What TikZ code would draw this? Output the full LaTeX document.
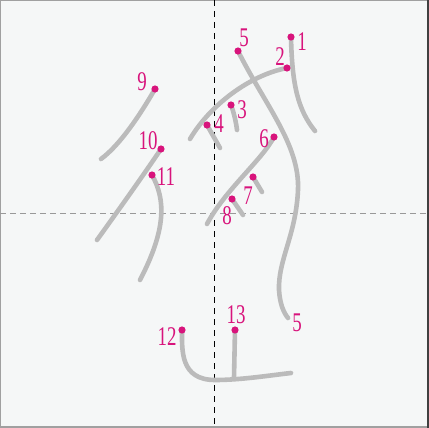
\documentclass[tikz,border=0pt]{standalone}
\usepackage{graphicx}
\usepackage{fontspec}
\setmainfont{Liberation Serif}
\definecolor{bgc}{HTML}{F5F7F7}
\definecolor{strokec}{HTML}{BBBBBB}
\definecolor{dotc}{HTML}{D8147C}
\definecolor{framec}{HTML}{A0A0A0}
\tikzset{
  kstroke/.style={draw=strokec, line width=4.6pt, line cap=round, line join=round},
  kdot/.style={fill=dotc},
  klabel/.style={text=dotc, inner sep=0pt, font=\fontsize{27}{27}\selectfont},
}
\newcommand{\nlab}[1]{\scalebox{0.7}[1]{#1}}
\begin{document}
\begin{tikzpicture}[x=1pt,y=-1pt]
\useasboundingbox (0,0) rectangle (429,428);
\fill[bgc] (0,0) rectangle (429,428);
% frame
\draw[framec, line width=1pt] (0,428) -- (0,0.5) -- (429,0.5);
\draw[framec, line width=2pt] (0,427) -- (429,427);
\draw[black!75, line width=2pt] (428,0) -- (428,428);
% guides
\draw[gray!80, line width=1pt, dash pattern=on 6pt off 4pt] (0,213) -- (429,213);
\draw[black, line width=0.9pt, dash pattern=on 6pt off 5pt] (214,0) -- (214,428);
% strokes
\draw[kstroke] (291,37) .. controls (292,85) and (298,110) .. (315,131);   % 1
\draw[kstroke] (287,68) .. controls (250,75) and (210,105) .. (190,139);   % 2
\draw[kstroke] (231,105) .. controls (234,113) and (236,122) .. (237,130); % 3
\draw[kstroke] (207,125) -- (220,148);                                     % 4
\draw[kstroke] (238,51) .. controls (265,105) and (300,145) .. (298,190)
   .. controls (296,235) and (278,260) .. (279,290)
   .. controls (280,305) and (284,313) .. (288,318);                       % 5
\draw[kstroke] (274,137) .. controls (262,160) and (225,190) .. (207,224); % 6
\draw[kstroke] (253,177) -- (262,192);                                     % 7
\draw[kstroke] (232,199) -- (243,215);                                     % 8
\draw[kstroke] (155,89) .. controls (140,115) and (120,145) .. (101,159);  % 9
\draw[kstroke] (161,149) .. controls (140,180) and (115,215) .. (97,240);  % 10
\draw[kstroke] (152,175) .. controls (166,200) and (166,230) .. (140,280); % 11
\draw[kstroke] (182,330) .. controls (182,350) and (180,380) .. (215,380)
   .. controls (240,380) and (265,376) .. (291,373);                       % 12
\draw[kstroke] (235,330) -- (234,378);                                     % 13
% start dots
\foreach \p/\n in {{(291,37)}/d1,{(287,68)}/d2,{(231,105)}/d3,{(207,125)}/d4,{(238,51)}/d5,{(274,137)}/d6,{(253,177)}/d7,{(232,199)}/d8,{(155,89)}/d9,{(161,149)}/d10,{(152,175)}/d11,{(182,330)}/d12,{(235,330)}/d13}
  \fill[kdot] \p circle (3.6pt) coordinate (\n);
% labels
\node[klabel] (l1) at (302,42) {\nlab{1}};
\node[klabel] (l2) at (280,57) {\nlab{2}};
\node[klabel] (l3) at (242,110) {\nlab{3}};
\node[klabel] (l4) at (219,124) {\nlab{4}};
\node[klabel] (l5) at (244,38) {\nlab{5}};
\node[klabel] (l6) at (264,139) {\nlab{6}};
\node[klabel] (l7) at (248,196) {\nlab{7}};
\node[klabel] (l8) at (227,216) {\nlab{8}};
\node[klabel] (l9) at (142,82) {\nlab{9}};
\node[klabel] (l10) at (148,141) {\nlab{10}};
\node[klabel] (l11) at (166,177) {\nlab{11}};
\node[klabel] (l12) at (167,337) {\nlab{12}};
\node[klabel] (l13) at (236,315) {\nlab{13}};
\node[klabel] (l5b) at (297,323) {\nlab{5}};
\end{tikzpicture}
\end{document}
